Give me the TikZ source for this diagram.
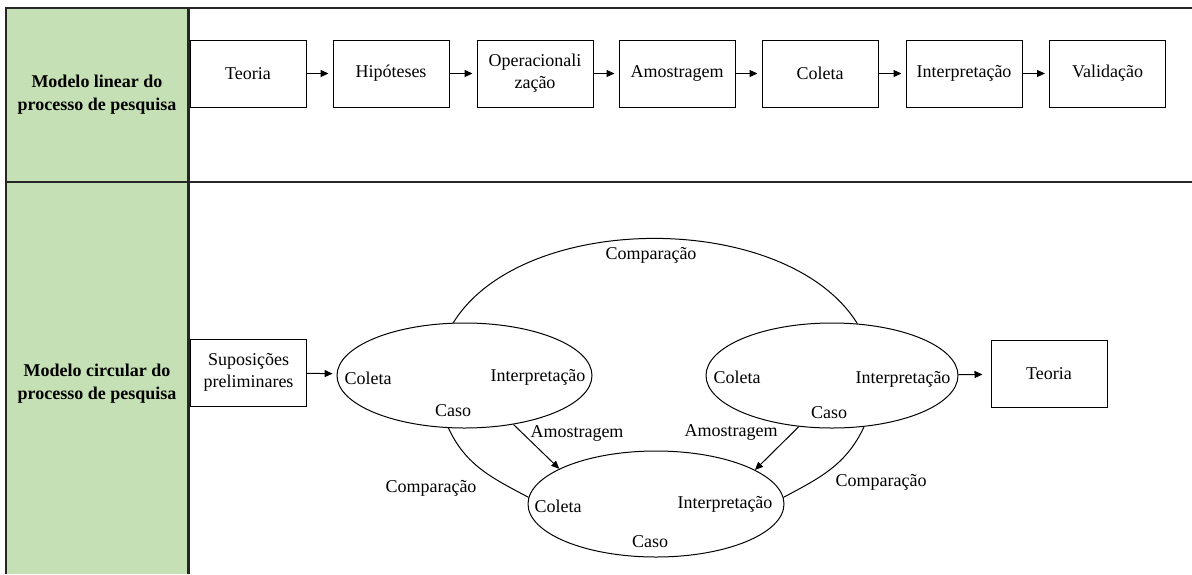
\documentclass[tikz,border=0pt]{standalone}
\usepackage{fontspec}
\setmainfont{Liberation Serif}
\usepackage{tikz}
\usetikzlibrary{arrows.meta,positioning,shapes.geometric}
\definecolor{colunaverde}{RGB}{197,224,180}

\begin{document}
\begin{tikzpicture}[
    x=1pt, y=-1pt,
    every node/.style={font=\fontsize{18}{22}\selectfont\rmfamily},
    etapa/.style={draw, line width=1pt, minimum width=116pt, minimum height=67pt, inner sep=2pt, align=center},
    ciclo/.style={draw, ellipse, line width=1pt, minimum width=#1, minimum height=105pt, inner sep=0pt},
    rotulo/.style={inner sep=1pt},
    modelo/.style={align=center, font=\fontsize{18}{23}\selectfont\rmfamily\bfseries},
    seta/.style={-{Triangle[length=8pt,width=7pt]}, line width=1pt},
    arco/.style={line width=1pt},
    grade/.style={line width=2.2pt, black!85},
]
\useasboundingbox (0,0) rectangle (1192,574);
\fill[colunaverde] (6,8) rectangle (188.5,574);
\draw[grade] (6,574) -- (6,8) -- (1192,8);
\draw[grade] (188.5,8) -- (188.5,574);
\draw[grade] (6,182) -- (1192,182);

\node[modelo] (linear) at (97,95) {Modelo linear do\\processo de pesquisa};
\node[modelo] (circular) at (97,384) {Modelo circular do\\processo de pesquisa};

\node[etapa] (teoria) at (248,73.5) {Teoria};
\node[etapa] (hipoteses) at (391,73.5) {Hipóteses};
\node[etapa] (operac) at (535,73.5) {Operacionali\\zação};
\node[etapa] (amostra) at (677,73.5) {Amostragem};
\node[etapa] (coleta) at (820,73.5) {Coleta};
\node[etapa] (interp) at (964,73.5) {Interpretação};
\node[etapa] (valid) at (1107.5,73.5) {Validação};

\draw[seta, shorten >=4pt] (teoria) -- (hipoteses);
\draw[seta, shorten >=4pt] (hipoteses) -- (operac);
\draw[seta, shorten >=4pt] (operac) -- (amostra);
\draw[seta, shorten >=4pt] (amostra) -- (coleta);
\draw[seta, shorten >=4pt] (coleta) -- (interp);
\draw[seta, shorten >=4pt] (interp) -- (valid);

\node[etapa] (suposicoes) at (248.5,372.5) {Suposições\\preliminares};
\node[etapa] (teoriafim) at (1049,374) {Teoria};

\node[ciclo=255pt] (caso1) at (464.5,375.5) {};
\node[ciclo=252pt] (caso2) at (832,375.5) {};
\node[ciclo=256pt, minimum height=106pt] (caso3) at (656,504) {};

\node[rotulo] (col1) at (368,378) {Coleta};
\node[rotulo] (int1) at (538,377) {Interpretação};
\node[rotulo] (cas1) at (453,411) {Caso};
\node[rotulo] (col2) at (737,377) {Coleta};
\node[rotulo] (int2) at (903,379) {Interpretação};
\node[rotulo] (cas2) at (829,413) {Caso};
\node[rotulo] (col3) at (558,506) {Coleta};
\node[rotulo] (int3) at (725,504) {Interpretação};
\node[rotulo] (cas3) at (650,542) {Caso};

\draw[seta, shorten >=4pt] (suposicoes) -- (caso1);
\draw[seta, shorten >=8pt] (caso2) -- (teoriafim);

\draw[arco] (caso1.102) .. controls +(70,-113) and +(-70,-113) .. (caso2.64);
\draw[arco] (caso1.-107) to[out=-65, in=152] (caso3.177);
\draw[arco] (caso2.-58) to[out=-115, in=28] (caso3.3);
\draw[seta] (caso1.-45) -- (caso3.160);
\draw[seta] (caso2.-123) -- (caso3.19);

\node[rotulo] (comp1) at (651,255) {Comparação};
\node[rotulo] (comp2) at (431,488) {Comparação};
\node[rotulo] (comp3) at (881,482) {Comparação};
\node[rotulo] (amos1) at (577,433) {Amostragem};
\node[rotulo] (amos2) at (731,432) {Amostragem};
\end{tikzpicture}
\end{document}
